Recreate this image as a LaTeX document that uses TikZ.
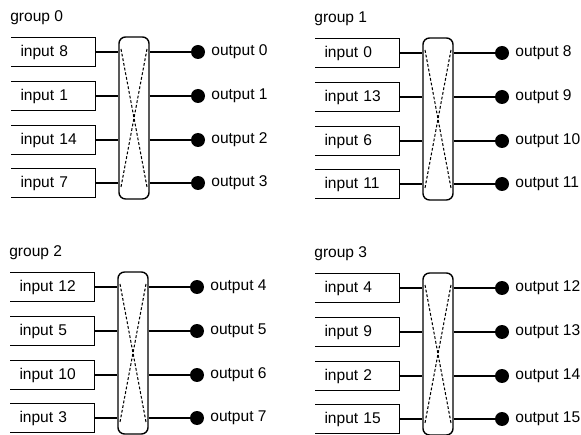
\documentclass[tikz,border=0pt]{standalone}
\usepackage{fontspec}
\setmainfont{Liberation Sans}
\tikzset{
  inbox/.style={inner sep=0pt, minimum width=1.5cm, minimum height=0.58cm, text width=1.32cm, align=left, inner xsep=0.18cm},
  side/.style={line width=0.6pt},
  xbar/.style={draw, line width=0.8pt, rounded corners=0.13cm, minimum width=0.6cm, minimum height=3.24cm, inner sep=0pt},
  odot/.style={circle, fill=black, inner sep=0pt, minimum size=0.28cm},
  outlbl/.style={anchor=west, inner sep=0pt},
  grplbl/.style={anchor=west, inner sep=0pt},
  wire/.style={line width=0.6pt},
  cross/.style={line width=0.6pt, dash pattern=on 1.6pt off 1.1pt}
}
\newcommand\grp[8]{%
  \begin{scope}[shift={(#2,#3)}]
    \node[grplbl] (g#1) at (10,18) {group #1};
    \node[xbar] (c#1) at (134,118) {};
    \foreach \k/\r/\t in {a/52/#4,b/96/#5,c/140/#6,d/183/#7}{
      \node[inbox] (i#1\k) at (53.5,\r) {input \t};
      \draw[side] (i#1\k.north west) -- (i#1\k.north east) -- (i#1\k.south east) -- (i#1\k.south west);
      \draw[wire] (i#1\k.east) -- (c#1.west |- i#1\k.east);
    }
    \foreach \k/\r/\n in {a/52/0,b/96/1,c/140/2,d/183/3}{
      \pgfmathtruncatemacro\on{#8+\n}
      \node[odot] (o#1\k) at (198,\r) {};
      \node[outlbl] (t#1\k) at (211,\r) {output \on};
      \draw[wire] (c#1.east |- o#1\k) -- (o#1\k);
    }
    \coordinate (x#1tl) at (121,49);
    \coordinate (x#1tr) at (147,49);
    \coordinate (x#1bl) at (121,187);
    \coordinate (x#1br) at (147,187);
    \draw[cross] (x#1tl) -- (x#1br);
    \draw[cross] (x#1tr) -- (x#1bl);
  \end{scope}}
\begin{document}
\begin{tikzpicture}[x=0.02cm, y=-0.02cm, font=\fontsize{8.85}{10}\selectfont]
  \useasboundingbox (0,0) rectangle (581,435);
  \grp{0}{0}{0}{8}{1}{14}{7}{0}
  \grp{1}{304}{1}{0}{13}{6}{11}{8}
  \grp{2}{-1}{235}{12}{5}{10}{3}{4}
  \grp{3}{304}{236}{4}{9}{2}{15}{12}
\end{tikzpicture}
\end{document}
